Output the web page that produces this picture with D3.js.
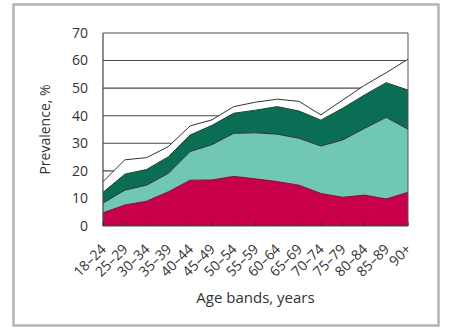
<!DOCTYPE html>
<html>
<head>
<meta charset="utf-8">
<script src="https://cdn.jsdelivr.net/npm/d3@7"></script>
<style>
  html, body { margin: 0; padding: 0; background: #fff; }
  svg { display: block; }
  text { font-family: "Open Sans", "DejaVu Sans", sans-serif; fill: #333; }
</style>
</head>
<body>
<svg id="chart" width="452" height="329"></svg>
<script>
// ---- data ----
const ageBands = ["18–24","25–29","30–34","35–39","40–44","45–49","50–54","55–59","60–64","65–69","70–74","75–79","80–84","85–89","90+"];
const seriesRed   = [4.8, 7.6, 9.0, 12.4, 16.6, 16.7, 18.0, 17.1, 16.1, 14.8, 11.8, 10.4, 11.2, 9.8, 12.2];
const seriesTeal  = [3.5, 5.4, 5.8, 6.7, 10.4, 12.8, 15.6, 16.7, 17.2, 17.0, 17.2, 20.8, 24.2, 29.6, 22.9];
const seriesDark  = [3.9, 5.8, 5.7, 6.0, 6.0, 7.0, 7.3, 8.2, 10.0, 9.9, 9.4, 11.5, 12.1, 12.6, 14.2];
const seriesOther = [3.9, 5.2, 4.3, 3.7, 3.3, 2.0, 2.4, 2.9, 2.7, 3.5, 1.9, 3.0, 3.5, 3.6, 11.2];
const yTicks = [0, 10, 20, 30, 40, 50, 60, 70];
const yTitle = "Prevalence, %";
const xTitle = "Age bands, years";

const keys = ["red", "teal", "dark", "other"];
const colors = { red: "#c8004a", teal: "#70c8b4", dark: "#0a6e55", other: "#ffffff" };
const rows = ageBands.map((b, i) => ({
  band: b, red: seriesRed[i], teal: seriesTeal[i], dark: seriesDark[i], other: seriesOther[i]
}));

const svg = d3.select("#chart");

// outer frame
svg.append("rect")
  .attr("x", 13.5).attr("y", 4.5).attr("width", 425).attr("height", 321)
  .attr("fill", "#fff").attr("stroke", "#b5b5ad").attr("stroke-width", 2.5);

const pL = 103, pR = 408, pT = 33, pB = 226;

const x = d3.scalePoint().domain(ageBands).range([pL, pR]);
const y = d3.scaleLinear().domain([0, 70]).range([pB, pT]);

// gridlines
svg.append("g").selectAll("line").data(yTicks.filter(t => t > 0)).join("line")
  .attr("x1", pL).attr("x2", pR)
  .attr("y1", d => y(d)).attr("y2", d => y(d))
  .attr("stroke", "#4a4a4a").attr("stroke-width", 1.1);

// stacked areas
const stack = d3.stack().keys(keys);
const layers = stack(rows);

const area = d3.area()
  .x(d => x(d.data.band))
  .y0(d => y(d[0]))
  .y1(d => y(d[1]));
const topLine = d3.line()
  .x(d => x(d.data.band))
  .y(d => y(d[1]));

svg.append("g").selectAll("path").data(layers).join("path")
  .attr("d", area)
  .attr("fill", d => colors[d.key]);

svg.append("g").selectAll("path").data(layers).join("path")
  .attr("d", topLine)
  .attr("fill", "none")
  .attr("stroke", "#333")
  .attr("stroke-width", 1);

// frame lines: left axis, right border, bottom axis
svg.append("line").attr("x1", pL).attr("x2", pL).attr("y1", pT).attr("y2", pB)
  .attr("stroke", "#444").attr("stroke-width", 1.2);
svg.append("line").attr("x1", pR).attr("x2", pR).attr("y1", pT).attr("y2", pB)
  .attr("stroke", "#555").attr("stroke-width", 1);
svg.append("line").attr("x1", pL).attr("x2", pR).attr("y1", pB).attr("y2", pB)
  .attr("stroke", "#444").attr("stroke-width", 1.2);

// x ticks (inward)
svg.append("g").selectAll("line").data(ageBands).join("line")
  .attr("x1", d => x(d)).attr("x2", d => x(d))
  .attr("y1", pB).attr("y2", pB - 4)
  .attr("stroke", "#333").attr("stroke-width", 1);

// y tick labels
svg.append("g").selectAll("text").data(yTicks).join("text")
  .attr("x", 88).attr("y", d => y(d))
  .attr("dy", "0.35em")
  .attr("text-anchor", "end")
  .style("font-size", "14px")
  .text(d => d);

// x tick labels rotated
svg.append("g").selectAll("text").data(ageBands).join("text")
  .attr("transform", d => `translate(${x(d) + 4},${pB + 24}) rotate(-45)`)
  .attr("text-anchor", "end")
  .style("font-size", "14px")
  .text(d => d);

// axis titles
svg.append("text")
  .attr("transform", `translate(50,${(pT + pB) / 2}) rotate(-90)`)
  .attr("text-anchor", "middle")
  .style("font-size", "14px")
  .text(yTitle);

svg.append("text")
  .attr("x", (pL + pR) / 2).attr("y", 303)
  .attr("text-anchor", "middle")
  .style("font-size", "15px")
  .text(xTitle);
</script>
</body>
</html>
